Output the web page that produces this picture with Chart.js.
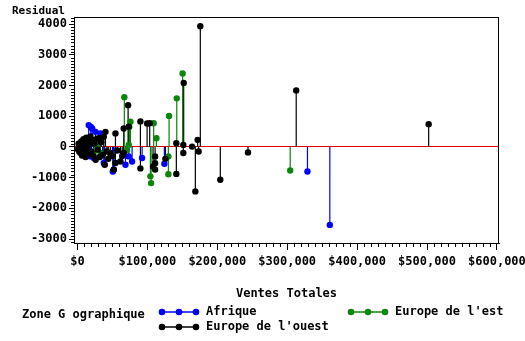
<!DOCTYPE html>
<html>
<head>
<meta charset="utf-8">
<script src="https://cdn.jsdelivr.net/npm/chart.js@4/dist/chart.umd.min.js"></script>
<style>
  body { margin: 0; background: #fff; }
</style>
</head>
<body>
<canvas id="residChart" width="525" height="341"></canvas>
<script>
// Residual by total sales, grouped by zone
const groupNames = ["Afrique", "Europe de l'est", "Europe de l'ouest"];
const groupColors = ["#0000ff", "#0a870a", "#000000"];

const afriqueVentes = [16000, 19000, 21000, 25700, 32900, 23300, 18600, 37600, 51900, 50500, 68600, 73300, 78100, 92400, 124300, 329000, 361000];
const afriqueResidus = [710, 650, 600, 490, 440, -365, -310, -525, -740, -800, -580, -310, -475, -360, -550, -800, -2540];

const estVentes = [22900, 28100, 32900, 67000, 71000, 73300, 74000, 75700, 104300, 105300, 109000, 112900, 130000, 130000, 131000, 142000, 150400, 304300];
const estResidus = [-150, 10, -200, 1620, -100, 65, 650, 820, -960, -1180, 770, 280, -310, -890, 1010, 1580, 2390, -770];

const ouestVentes = [500, 1500, 2500, 3500, 4300, 5500, 6500, 7500, 8500, 9500, 10500, 11500, 12500, 13500, 14500, 15500, 17000, 18500, 20000, 21500, 23000, 24500, 26000, 27500, 29000, 30400, 32000, 34000, 36000, 37600, 40000, 39000, 42000, 44000, 47000, 50000, 51900, 54300, 54300, 57000, 61400, 64000, 66100, 66100, 72400, 73300, 90000, 90000, 99600, 103300, 108100, 111000, 111000, 111000, 125700, 141400, 141400, 151400, 151400, 151900, 163900, 168600, 171900, 173300, 175700, 204300, 243900, 312900, 502400];
const ouestResidus = [-80, 100, -150, 60, -200, 180, -280, 40, 250, -120, 150, -330, 300, -50, 200, -220, 90, 340, -160, 230, -300, 120, -420, 260, -90, 280, -330, 150, -260, 330, 490, -580, -150, -390, -200, -300, -740, 440, -525, -120, -475, -300, 600, -200, 1360, 660, 830, -700, 760, 770, -640, -310, -530, -740, -390, 120, -880, 65, -200, 2080, 10, -1450, 230, -150, 3930, -1070, -180, 1840, 740];

const yTicks = [-3000, -2000, -1000, 0, 1000, 2000, 3000, 4000];
const xTicks = [0, 100000, 200000, 300000, 400000, 500000, 600000];

const groupVentes = [afriqueVentes, estVentes, ouestVentes];
const groupResidus = [afriqueResidus, estResidus, ouestResidus];

const fontFam = '"DejaVu Sans Mono", "Liberation Mono", monospace';

function needles(xs, ys) {
	const pts = [];
	xs.forEach((x, i) => {
		pts.push({ x: x, y: 0 }, { x: x, y: ys[i] }, { x: x, y: null });
	});
	return pts;
}

const datasets = [];
groupNames.forEach((name, g) => {
	datasets.push({
		label: name + " needles",
		data: needles(groupVentes[g], groupResidus[g]),
		showLine: true,
		spanGaps: false,
		borderColor: groupColors[g],
		borderWidth: 1.2,
		pointRadius: 0,
		order: 10,
	});
});
groupNames.forEach((name, g) => {
	datasets.push({
		label: name,
		data: groupVentes[g].map((x, i) => ({ x: x, y: groupResidus[g][i] })),
		backgroundColor: groupColors[g],
		borderColor: groupColors[g],
		borderWidth: 0,
		pointRadius: 3.2,
		pointStyle: "circle",
		order: 3 - g,
	});
});

// frame, minor ticks, labels and legend
const decor = {
	id: "decor",
	afterDraw(chart) {
		const ctx = chart.ctx;
		const area = chart.chartArea;
		const xs = chart.scales.x;
		const ys = chart.scales.y;
		ctx.save();
		ctx.strokeStyle = "#000";
		ctx.lineWidth = 1;
		ctx.strokeRect(area.left + 0.5, area.top + 0.5, area.right - area.left - 1, area.bottom - area.top);

		ctx.beginPath();
		for (let v = -3100; v <= 4200; v += 100) {
			if (v % 1000 === 0) continue;
			const y = Math.round(ys.getPixelForValue(v)) + 0.5;
			ctx.moveTo(area.left - 3, y);
			ctx.lineTo(area.left, y);
		}
		for (let v = 0; v <= 600000; v += 10000) {
			if (v % 100000 === 0) continue;
			const x = Math.round(xs.getPixelForValue(v)) + 0.5;
			ctx.moveTo(x, area.bottom);
			ctx.lineTo(x, area.bottom + 4);
		}
		ctx.stroke();

		ctx.fillStyle = "#000";
		ctx.font = "bold 11px " + fontFam;
		ctx.textBaseline = "middle";
		ctx.textAlign = "left";
		ctx.fillText("Residual", 12, 11);

		ctx.font = "bold 12px " + fontFam;
		ctx.textAlign = "center";
		ctx.fillText("Ventes Totales", (area.left + area.right) / 2, 294);

		ctx.textAlign = "left";
		ctx.fillText("Zone G ographique", 22, 315);

		const items = [
			{ g: 0, x: 162, y: 312 },
			{ g: 2, x: 162, y: 327 },
			{ g: 1, x: 351, y: 312 },
		];
		items.forEach((it) => {
			const c = groupColors[it.g];
			ctx.strokeStyle = c;
			ctx.fillStyle = c;
			ctx.lineWidth = 1.5;
			ctx.beginPath();
			ctx.moveTo(it.x, it.y);
			ctx.lineTo(it.x + 34, it.y);
			ctx.stroke();
			[0, 17, 34].forEach((dx) => {
				ctx.beginPath();
				ctx.arc(it.x + dx, it.y, 3.3, 0, Math.PI * 2);
				ctx.fill();
			});
			ctx.fillStyle = "#000";
			ctx.fillText(groupNames[it.g], it.x + 44, it.y);
		});
		ctx.restore();
	},
};

const ctxResid = document.getElementById("residChart").getContext("2d");
const residChart = new Chart(ctxResid, {
	type: "scatter",
	data: { datasets: datasets },
	options: {
		responsive: false,
		animation: false,
		layout: { padding: { top: 17, right: 26, left: 0, bottom: 0 } },
		plugins: {
			legend: { display: false },
			tooltip: { enabled: false },
		},
		scales: {
			x: {
				type: "linear",
				min: -5000,
				max: 603000,
				offset: false,
				afterBuildTicks: (s) => {
					s.ticks = xTicks.map((v) => ({ value: v }));
				},
				afterFit: (s) => {
					s.height = 98;
					s.paddingLeft = 0;
					s.paddingRight = 0;
				},
				ticks: {
					color: "#000",
					font: { family: fontFam, size: 12, weight: "bold" },
					padding: 5,
					maxRotation: 0,
					autoSkip: false,
					callback: (v) => "$" + Number(v).toLocaleString("en-US"),
				},
				grid: {
					drawOnChartArea: false,
					tickLength: 7,
					tickColor: "#000",
				},
				border: { color: "#000", width: 1 },
			},
			y: {
				type: "linear",
				min: -3130,
				max: 4230,
				afterBuildTicks: (s) => {
					s.ticks = yTicks.map((v) => ({ value: v }));
				},
				afterFit: (s) => {
					s.width = 74;
					s.paddingTop = 0;
					s.paddingBottom = 0;
				},
				ticks: {
					color: "#000",
					font: { family: fontFam, size: 12, weight: "bold" },
					padding: 2,
					callback: (v) => String(v),
				},
				grid: {
					color: (c) => (c.tick && c.tick.value === 0 ? "#e00000" : "rgba(0,0,0,0)"),
					tickColor: "#000",
					tickLength: 5,
				},
				border: { color: "#000", width: 1 },
			},
		},
	},
	plugins: [decor],
});
</script>
</body>
</html>
